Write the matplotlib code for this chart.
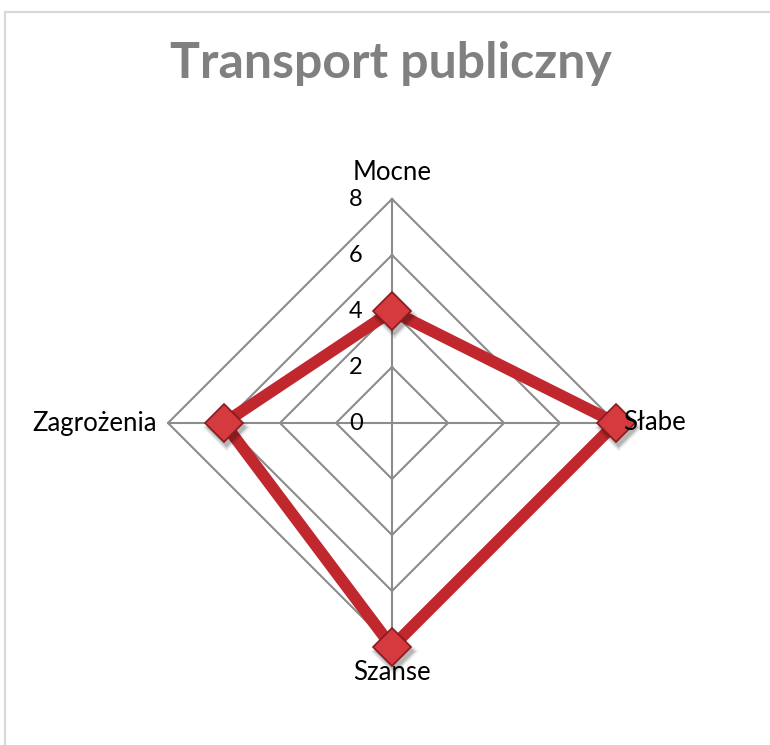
import numpy as np
import matplotlib
matplotlib.use("Agg")
import matplotlib.pyplot as plt
from matplotlib.patches import Rectangle
from matplotlib.transforms import offset_copy

TITLE = "Transport publiczny"
categories = ["Mocne", "Słabe", "Szanse", "Zagrożenia"]
values = [4, 8, 8, 6]
ticks = [0, 2, 4, 6, 8]
RMAX = 8

LINE = "#c0282d"
GRID = "#8c8c8c"
FONT = "Lato"

W, H = 770, 745
fig = plt.figure(figsize=(W / 100, H / 100), dpi=100)

# chart frame (light gray border, runs off the right/bottom edge)
fig.patches.append(Rectangle((5 / W, -0.02), 1.05, 1 - 12 / H + 0.02,
                             transform=fig.transFigure, fill=False,
                             edgecolor="#d9d9d9", linewidth=1.6))

fig.text(391 / W, 1 - 78 / H, TITLE, ha="center", va="baseline",
         fontsize=36, fontweight="bold", color="#808080", family=FONT)

# square axes centred on the radar centre, 28 px per unit
cx, cy, L, ppu = 392, H - 423, 10, 28
half = L * ppu
ax = fig.add_axes([(cx - half) / W, (cy - half) / H, 2 * half / W, 2 * half / H])
ax.set_xlim(-L, L)
ax.set_ylim(-L, L)
ax.set_aspect("equal")
ax.axis("off")

n = len(categories)
ang = np.pi / 2 - 2 * np.pi * np.arange(n) / n
ux, uy = np.cos(ang), np.sin(ang)

# diamond grid + spokes
for t in ticks[1:]:
    ax.plot(np.append(ux, ux[0]) * t, np.append(uy, uy[0]) * t,
            color=GRID, lw=1.5, zorder=1)
for i in range(n):
    ax.plot([0, ux[i] * RMAX], [0, uy[i] * RMAX], color=GRID, lw=1.5, zorder=1)

for t in ticks:
    ax.text(-1.05, t, str(t), ha="right", va="center", fontsize=17,
            family=FONT, color="black", zorder=2)

v = np.array(values, dtype=float)
xs, ys = np.append(ux * v, ux[0] * v[0]), np.append(uy * v, uy[0] * v[0])
ax.plot(xs, ys, color=LINE, lw=8.5, solid_joinstyle="miter", zorder=3)
# soft drop shadow under the markers (a few stacked translucent layers)
shadow = offset_copy(ax.transData, fig=fig, x=1.5, y=-3, units="points")
for ms, a in [(24, 0.06), (22, 0.1), (20, 0.15)]:
    ax.plot(ux * v, uy * v, ls="none", marker="D", ms=ms, mfc="black", mec="none",
            alpha=a, transform=shadow, zorder=3.5)
ax.plot(ux * v, uy * v, ls="none", marker="D", ms=19, mfc="#d43a3e",
        mec="#8a1a1e", mew=1.2, zorder=4)

# category labels
lbl = dict(fontsize=18.5, family=FONT, color="black", zorder=5)
ax.text(0, RMAX + 0.95, categories[0], ha="center", va="center", **lbl)
ax.text(RMAX + 0.25, 0, categories[1], ha="left", va="center", **lbl)
ax.text(0, -RMAX - 0.9, categories[2], ha="center", va="center", **lbl)
ax.text(-RMAX - 0.4, 0, categories[3], ha="right", va="center", **lbl)

fig.savefig("out.png", dpi=100)
